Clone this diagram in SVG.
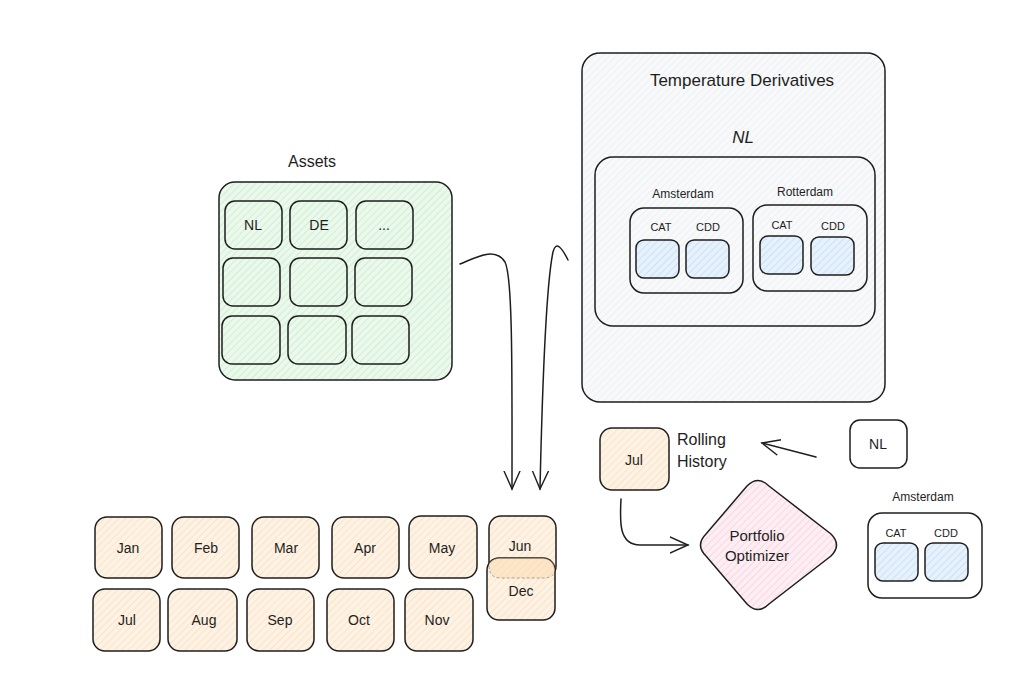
<svg xmlns="http://www.w3.org/2000/svg" width="1018" height="677" viewBox="0 0 1018 677">
<defs>
<pattern id="hGreen" width="5" height="5" patternUnits="userSpaceOnUse" patternTransform="rotate(45)"><rect width="5" height="5" fill="#ebf8ec"/><line x1="0" y1="0" x2="0" y2="5" stroke="#bfe9c4" stroke-width="1.2"/></pattern>
<pattern id="hGrey" width="5" height="5" patternUnits="userSpaceOnUse" patternTransform="rotate(45)"><rect width="5" height="5" fill="#f8f9fa"/><line x1="0" y1="0" x2="0" y2="5" stroke="#e6e8eb" stroke-width="1"/></pattern>
<pattern id="hBlue" width="5" height="5" patternUnits="userSpaceOnUse" patternTransform="rotate(45)"><rect width="5" height="5" fill="#e6f1fc"/><line x1="0" y1="0" x2="0" y2="5" stroke="#b8d9f6" stroke-width="1.2"/></pattern>
<pattern id="hOrange" width="5" height="5" patternUnits="userSpaceOnUse" patternTransform="rotate(45)"><rect width="5" height="5" fill="#fdf2e3"/><line x1="0" y1="0" x2="0" y2="5" stroke="#fbdbb4" stroke-width="1.2"/></pattern>
<pattern id="hPink" width="5" height="5" patternUnits="userSpaceOnUse" patternTransform="rotate(45)"><rect width="5" height="5" fill="#fdeef3"/><line x1="0" y1="0" x2="0" y2="5" stroke="#f9c6d7" stroke-width="1.2"/></pattern>
<clipPath id="decClip"><rect x="487" y="558" width="68" height="62" rx="12"/></clipPath>
<marker id="arr" markerWidth="20" markerHeight="20" refX="18" refY="10" orient="auto" markerUnits="userSpaceOnUse"><path d="M0,2 L18,10 L0,18" fill="none" stroke="#1e1e1e" stroke-width="1.4" stroke-linecap="round"/></marker>
</defs>
<style>
.b{stroke:#1e1e1e;stroke-width:1.5}
.t{font-family:"Liberation Sans",Arial,sans-serif;fill:#1e1e1e;text-anchor:middle}
.m{font-size:14px}
.s{font-size:11px}
.c{stroke:#1e1e1e;stroke-width:1.5;fill:none;stroke-linecap:round}
</style>
<rect width="1018" height="677" fill="#ffffff"/>

<g id="assets">
<text class="t" x="312" y="167" font-size="16">Assets</text>
<rect class="b" x="219" y="182" width="233" height="198" rx="16" fill="url(#hGreen)"/>
<rect class="b" x="225" y="201" width="57" height="48" rx="10" fill="url(#hGreen)"/>
<rect class="b" x="290" y="201" width="57" height="48" rx="10" fill="url(#hGreen)"/>
<rect class="b" x="356" y="201" width="57" height="48" rx="10" fill="url(#hGreen)"/>
<text class="t m" x="253" y="230">NL</text>
<text class="t m" x="319" y="230">DE</text>
<text class="t m" x="384" y="230">...</text>
<rect class="b" x="223" y="258" width="57" height="48" rx="10" fill="url(#hGreen)"/>
<rect class="b" x="290" y="258" width="57" height="48" rx="10" fill="url(#hGreen)"/>
<rect class="b" x="355" y="258" width="57" height="48" rx="10" fill="url(#hGreen)"/>
<rect class="b" x="222" y="316" width="58" height="48" rx="10" fill="url(#hGreen)"/>
<rect class="b" x="288" y="316" width="58" height="48" rx="10" fill="url(#hGreen)"/>
<rect class="b" x="352" y="316" width="57" height="48" rx="10" fill="url(#hGreen)"/>
</g>

<g id="temperature-derivatives">
<rect class="b" x="582" y="53" width="303" height="349" rx="18" fill="url(#hGrey)"/>
<text class="t" x="742" y="86" font-size="17">Temperature Derivatives</text>
<text class="t" x="743" y="143" font-size="17" font-style="italic">NL</text>
<rect class="b" x="595" y="157" width="280" height="169" rx="18" fill="url(#hGrey)"/>
<text class="t" x="683" y="198" font-size="12">Amsterdam</text>
<rect class="b" x="630" y="208" width="113" height="85" rx="14" fill="url(#hGrey)"/>
<text class="t s" x="661" y="231">CAT</text>
<text class="t s" x="708" y="231">CDD</text>
<rect class="b" x="636" y="240" width="43" height="38" rx="8" fill="url(#hBlue)"/>
<rect class="b" x="686" y="240" width="43" height="38" rx="8" fill="url(#hBlue)"/>
<text class="t" x="805" y="196" font-size="12">Rotterdam</text>
<rect class="b" x="753" y="205" width="114" height="86" rx="14" fill="url(#hGrey)"/>
<text class="t s" x="782" y="229">CAT</text>
<text class="t s" x="833" y="230">CDD</text>
<rect class="b" x="760" y="236" width="43" height="38" rx="8" fill="url(#hBlue)"/>
<rect class="b" x="811" y="237" width="43" height="38" rx="8" fill="url(#hBlue)"/>
</g>

<g id="rolling-history">
<rect class="b" x="600" y="428" width="69" height="62" rx="12" fill="url(#hOrange)"/>
<text class="t m" x="634" y="465">Jul</text>
<text class="t" x="677" y="445" font-size="16" style="text-anchor:start">Rolling</text>
<text class="t" x="677" y="467" font-size="16" style="text-anchor:start">History</text>
</g>

<g id="nl-small">
<rect class="b" x="850" y="420" width="57" height="48" rx="10" fill="#ffffff"/>
<text class="t m" x="878" y="449">NL</text>
</g>

<g id="amsterdam-small">
<text class="t" x="923" y="501" font-size="12">Amsterdam</text>
<rect class="b" x="868" y="513" width="114" height="85" rx="14" fill="#ffffff"/>
<text class="t s" x="896" y="537">CAT</text>
<text class="t s" x="946" y="537">CDD</text>
<rect class="b" x="875" y="543" width="43" height="38" rx="8" fill="url(#hBlue)"/>
<rect class="b" x="925" y="543" width="43" height="38" rx="8" fill="url(#hBlue)"/>
</g>

<g id="portfolio-optimizer">
<path class="b" d="M747,486 Q758,475 769,486 L831,534 Q842,545 831,556 L769,604 Q758,615 747,604 L706,556 Q695,545 706,534 Z" fill="url(#hPink)"/>
<text class="t" x="757" y="541" font-size="15">Portfolio</text>
<text class="t" x="757" y="561" font-size="15">Optimizer</text>
</g>

<g id="months">
<rect class="b" x="95" y="517" width="67" height="61" rx="12" fill="url(#hOrange)"/>
<text class="t m" x="128" y="553">Jan</text>
<rect class="b" x="172" y="517" width="67" height="61" rx="12" fill="url(#hOrange)"/>
<text class="t m" x="206" y="553">Feb</text>
<rect class="b" x="252" y="517" width="67" height="61" rx="12" fill="url(#hOrange)"/>
<text class="t m" x="286" y="553">Mar</text>
<rect class="b" x="332" y="517" width="67" height="61" rx="12" fill="url(#hOrange)"/>
<text class="t m" x="365" y="553">Apr</text>
<rect class="b" x="409" y="516" width="68" height="62" rx="12" fill="url(#hOrange)"/>
<text class="t m" x="442" y="553">May</text>
<rect class="b" x="489" y="516" width="67" height="62" rx="12" fill="url(#hOrange)"/>
<text class="t m" x="520" y="551">Jun</text>
<rect class="b" x="487" y="558" width="68" height="62" rx="12" fill="url(#hOrange)"/>
<g clip-path="url(#decClip)">
<rect x="489" y="516" width="67" height="62" rx="12" fill="#fbd6a8" fill-opacity="0.45"/>
<path d="M489,566 Q489,578 501,578 L544,578 Q556,578 556,566" fill="none" stroke="#1e1e1e" stroke-width="1" stroke-opacity="0.35" stroke-dasharray="3 2"/>
</g>
<text class="t m" x="521" y="596">Dec</text>
<rect class="b" x="93" y="589" width="67" height="62" rx="12" fill="url(#hOrange)"/>
<text class="t m" x="127" y="625">Jul</text>
<rect class="b" x="168" y="589" width="69" height="62" rx="12" fill="url(#hOrange)"/>
<text class="t m" x="204" y="625">Aug</text>
<rect class="b" x="247" y="589" width="67" height="62" rx="12" fill="url(#hOrange)"/>
<text class="t m" x="280" y="625">Sep</text>
<rect class="b" x="327" y="589" width="67" height="62" rx="12" fill="url(#hOrange)"/>
<text class="t m" x="359" y="625">Oct</text>
<rect class="b" x="405" y="589" width="68" height="62" rx="12" fill="url(#hOrange)"/>
<text class="t m" x="437" y="625">Nov</text>
</g>

<g id="connectors">
<path class="c" d="M460,264 C475,258 495,246 505,262 C513,278 512,380 512,489" marker-end="url(#arr)"/>
<path class="c" d="M568,260 C562,248 556,240 553,252 C545,290 542,400 540,489" marker-end="url(#arr)"/>
<path class="c" d="M816,457 L762,443" marker-end="url(#arr)"/>
<path class="c" d="M621,499 C620,520 618,545 640,545 L688,545" marker-end="url(#arr)"/>
</g>
</svg>
